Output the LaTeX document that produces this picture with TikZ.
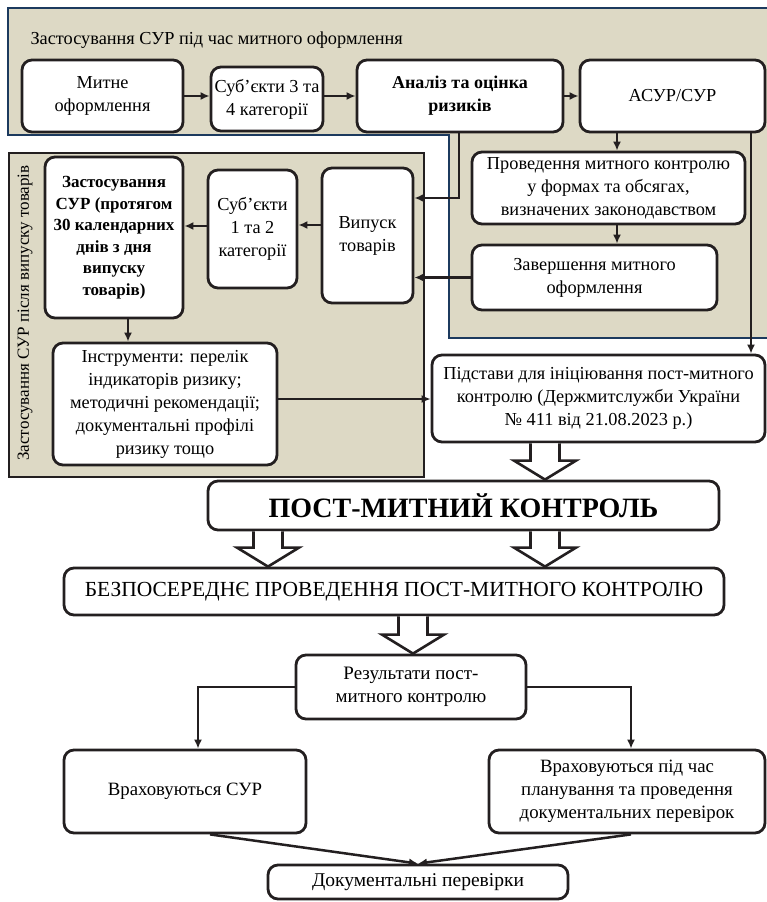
\documentclass[tikz,border=0pt]{standalone}
\usepackage{fontspec}
\setmainfont{Liberation Serif}
\usetikzlibrary{arrows.meta, positioning, calc, backgrounds}

\definecolor{panelbeige}{HTML}{DDD9C5}
\definecolor{panelblue}{HTML}{1C3A5E}
\definecolor{myline}{HTML}{231F20}

% hollow block arrow from #1 (shaft start) to #2 (tip)
\newcommand{\hollowarrow}[2]{%
  \draw[myhollow] let \p1=(#1), \p2=(#2) in
    (\x1-14.5pt,\y1) -- (\x1-14.5pt,\y2+19pt) -- (\x1-31pt,\y2+19pt) -- (\x1,\y2)
    -- (\x1+31pt,\y2+19pt) -- (\x1+14.5pt,\y2+19pt) -- (\x1+14.5pt,\y1);}

\begin{document}
\begin{tikzpicture}[
    x=1pt, y=-1pt,
    font=\fontsize{18.3}{23}\selectfont,
    mybox/.style={draw=myline, line width=2.8pt, rounded corners=10pt, fill=white, align=center, inner sep=1pt},
    myarrow/.style={-{Latex[length=9pt,width=8pt]}, line width=2.5pt, draw=myline},
    myhollow/.style={draw=myline, line width=2.6pt, fill=white, line join=miter},
]
\useasboundingbox (0,0) rectangle (767,902);

% Nodes: customs clearance
\node[anchor=base west] (title) at (27,44) {Застосування СУР під час митного оформлення};
\node[mybox, minimum width=161pt, minimum height=72pt] (mytne) at (102.5,96) {Митне\\оформлення};
\node[mybox, minimum width=112pt, minimum height=64pt] (sub34) at (267,99) {Суб’єкти 3 та\\4 категорії};
\node[mybox, minimum width=206pt, minimum height=72pt, font=\fontsize{18}{23}\selectfont\bfseries] (analiz) at (460,96) {Аналіз та оцінка\\ризиків};
\node[mybox, minimum width=185pt, minimum height=72pt] (asur) at (672.5,96) {АСУР/СУР};
\node[mybox, minimum width=273pt, minimum height=72pt] (proved) at (608.5,188) {Проведення митного контролю\\у формах та обсягах,\\визначених законодавством};
\node[mybox, minimum width=245pt, minimum height=65pt] (zaversh) at (594.5,277.5) {Завершення митного\\оформлення};

% Nodes: after release
\node[rotate=90, font=\fontsize{17}{22}\selectfont] (vlabel) at (25,313) {Застосування СУР після випуску товарів};
\node[mybox, minimum width=91pt, minimum height=135pt] (vypusk) at (367.5,235.5) {Випуск\\товарів};
\node[mybox, minimum width=89pt, minimum height=118pt] (sub12) at (252.5,229) {Суб’єкти\\1 та 2\\категорії};
\node[mybox, minimum width=138pt, minimum height=161pt, font=\fontsize{17}{21.5}\selectfont\bfseries] (zastos) at (114,237.5) {Застосування\\СУР (протягом\\30 календарних\\днів з дня\\випуску\\товарів)};
\node[mybox, minimum width=224pt, minimum height=122pt] (instr) at (165,404) {Інструменти: перелік\\індикаторів ризику;\\методичні рекомендації;\\документальні профілі\\ризику тощо};
\node[mybox, minimum width=333pt, minimum height=87pt] (pidstavy) at (598.5,398.5) {Підстави для ініціювання пост-митного\\контролю (Держмитслужби України\\№ 411 від 21.08.2023 р.)};

% Nodes: post-clearance control
\node[mybox, minimum width=511pt, minimum height=49pt, font=\fontsize{28}{32}\selectfont\bfseries] (post) at (463.5,505.5) {ПОСТ-МИТНИЙ КОНТРОЛЬ};
\node[mybox, minimum width=660pt, minimum height=47pt, font=\fontsize{21.5}{25}\selectfont] (bezpo) at (394,591.5) {БЕЗПОСЕРЕДНЄ ПРОВЕДЕННЯ ПОСТ-МИТНОГО КОНТРОЛЮ};
\node[mybox, minimum width=230pt, minimum height=64pt, font=\fontsize{19}{23.5}\selectfont] (rezult) at (411,687) {Результати пост-\\митного контролю};
\node[mybox, minimum width=242pt, minimum height=83pt, font=\fontsize{18.8}{23}\selectfont] (vrakh1) at (185,791.5) {Враховуються СУР};
\node[mybox, minimum width=276pt, minimum height=83pt, font=\fontsize{18.8}{23}\selectfont] (vrakh2) at (627,791.5) {Враховуються під час\\планування та проведення\\документальних перевірок};
\node[mybox, minimum width=300pt, minimum height=34pt, font=\fontsize{19.5}{23}\selectfont] (dokum) at (418,882) {Документальні перевірки};

% Panels
\begin{pgfonlayer}{background}
    \fill[panelbeige] (8,8) -- (770,8) -- (770,338) -- (449,338) -- (449,135) -- (8,135) -- cycle;
    \draw[panelblue, line width=2.8pt] (770,8) -- (8,8) -- (8,135) -- (449,135) -- (449,338) -- (770,338);
    \draw[myline, line width=2.6pt, fill=panelbeige] (9,153) rectangle (424,477);
\end{pgfonlayer}

% Arrows
\draw[myarrow] (mytne) -- (sub34.west |- mytne);
\draw[myarrow] (sub34.east |- mytne) -- (analiz);
\draw[myarrow] (analiz) -- (asur);
\draw[myarrow] (459,0 |- analiz.south) |- (vypusk.east |- 0,198);
\draw[myarrow] (617,0 |- asur.south) -- (617,0 |- proved.north);
\draw[myarrow] (751,0 |- asur.south) -- (751,0 |- pidstavy.north);
\draw[myarrow] (617,0 |- proved.south) -- (617,0 |- zaversh.north);
\draw[myarrow] (zaversh.west) -- (vypusk.east |- zaversh.west);
\draw[myarrow] (vypusk.west |- 0,225) -- (sub12.east |- 0,225);
\draw[myarrow] (sub12.west |- 0,226) -- (zastos.east |- 0,226);
\draw[myarrow] (128,0 |- zastos.south) -- (128,0 |- instr.north);
\draw[myarrow] (instr.east |- 0,399) -- (pidstavy.west |- 0,399);
\draw[myarrow] (rezult.west) -| (vrakh1.north -| 198,0);
\draw[myarrow] (rezult.east) -| (vrakh2.north -| 631,0);
\draw[myarrow] (210,0 |- vrakh1.south) -- (dokum.north);
\draw[myarrow] (631,0 |- vrakh2.south) -- (dokum.north);

% Block arrows
\hollowarrow{545,0 |- pidstavy.south}{545,0 |- post.north}
\hollowarrow{268,0 |- post.south}{268,0 |- bezpo.north}
\hollowarrow{545,0 |- post.south}{545,0 |- bezpo.north}
\hollowarrow{413,0 |- bezpo.south}{413,0 |- rezult.north}

\end{tikzpicture}
\end{document}
